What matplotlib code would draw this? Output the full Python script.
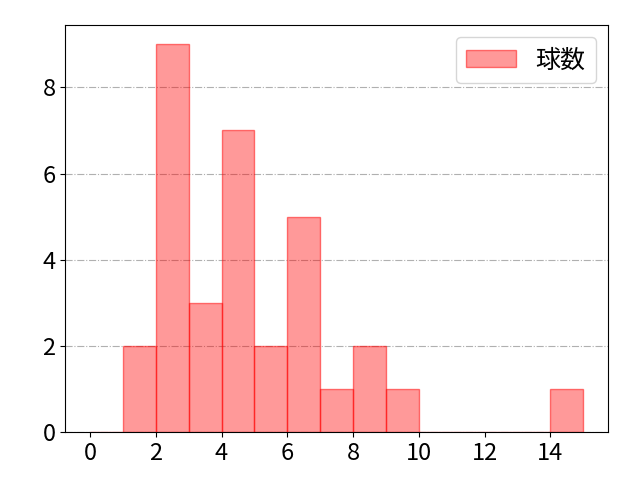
import numpy as np
import matplotlib
matplotlib.use("Agg")
from matplotlib import pyplot as plt

plt.rcParams['font.family'] = ['Noto Sans CJK JP', 'DejaVu Sans']

# pitch count histogram
bin_edges = list(range(0, 16))
counts = [0, 2, 9, 3, 7, 2, 5, 1, 2, 1, 0, 0, 0, 0, 1]
label = '球数'

fig, ax = plt.subplots(figsize=(6.4, 4.8), dpi=100)
ax.hist(bin_edges[:-1], bins=bin_edges, weights=counts,
        color=(1, 0, 0, 0.4), edgecolor=(1, 0, 0, 0.5), linewidth=1,
        label=label, zorder=2)
ax.grid(axis='y', linestyle='-.', color='#b0b0b0', linewidth=0.8, zorder=0)
ax.set_axisbelow(True)
ax.set_xticks(np.arange(0, 16, 2))
ax.tick_params(labelsize=17)
ax.legend(fontsize=18, loc='upper right')
fig.subplots_adjust(left=0.102, right=0.95, top=0.948, bottom=0.1)
fig.savefig('out.png')
